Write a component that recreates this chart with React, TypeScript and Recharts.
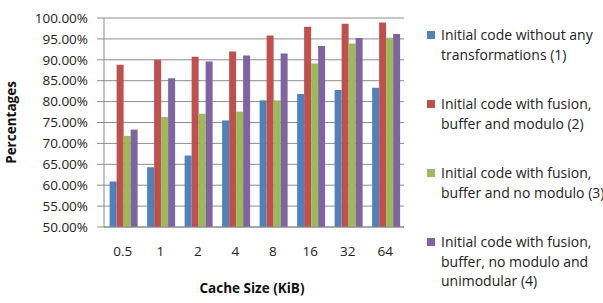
import { BarChart, Bar, XAxis, YAxis, CartesianGrid } from "recharts";

// cache sizes on the x axis (KiB)
const cacheSizes = ["0.5", "1", "2", "4", "8", "16", "32", "64"];

// hit percentages per variant
const initialCode = [60.9, 64.3, 67.1, 75.5, 80.3, 81.8, 82.8, 83.3];
const fusionBufferModulo = [88.8, 90.0, 90.7, 92.0, 95.8, 97.9, 98.6, 98.9];
const fusionBufferNoModulo = [71.8, 76.3, 77.1, 77.6, 80.3, 89.1, 93.9, 95.3];
const fusionBufferUnimodular = [73.3, 85.6, 89.6, 91.0, 91.5, 93.3, 95.2, 96.2];

const yTicks = [50, 55, 60, 65, 70, 75, 80, 85, 90, 95, 100];

const series = [
  { key: "s1", values: initialCode, color: "#4F81BD", lines: ["Initial code without any", "transformations (1)"] },
  { key: "s2", values: fusionBufferModulo, color: "#C0504D", lines: ["Initial code with fusion,", "buffer and modulo (2)"] },
  { key: "s3", values: fusionBufferNoModulo, color: "#9BBB59", lines: ["Initial code with fusion,", "buffer and no modulo (3)"] },
  { key: "s4", values: fusionBufferUnimodular, color: "#8064A2", lines: ["Initial code with fusion,", "buffer, no modulo and", "unimodular (4)"] },
];

const data = cacheSizes.map((size, i) => {
  const row: Record<string, string | number> = { size };
  series.forEach((s) => (row[s.key] = s.values[i]));
  return row;
});

const FONT = "'Open Sans', sans-serif";

export default function App() {
  return (
    <div
      style={{
        position: "absolute",
        left: 0,
        top: 0,
        width: 603,
        height: 303,
        background: "#fff",
        overflow: "hidden",
        fontFamily: FONT,
      }}
    >
      <BarChart
        width={603}
        height={303}
        data={data}
        margin={{ top: 18, right: 199, bottom: 0, left: 0 }}
        barCategoryGap="15%"
        barGap={0}
      >
        <CartesianGrid vertical={false} stroke="#8c8c8c" strokeWidth={1} />
        <XAxis
          dataKey="size"
          height={76}
          tickLine={false}
          tickSize={0}
          tickMargin={19}
          axisLine={{ stroke: "#8c8c8c" }}
          tick={{ fill: "#222", fontSize: 13.5, fontFamily: FONT }}
          label={{
            value: "Cache Size (KiB)",
            position: "insideBottom",
            offset: 10,
            dx: -2,
            fill: "#111",
            fontSize: 13.5,
            fontWeight: "bold",
            fontFamily: FONT,
          }}
        />
        <YAxis
          width={104}
          domain={[50, 100]}
          ticks={yTicks}
          interval={0}
          tickSize={7}
          tickMargin={9}
          tickLine={{ stroke: "#8c8c8c" }}
          axisLine={{ stroke: "#8c8c8c" }}
          tick={{ fill: "#222", fontSize: 13.5, fontFamily: FONT }}
          tickFormatter={(v: number) => `${v.toFixed(2)}%`}
          label={{
            value: "Percentages",
            angle: -90,
            position: "insideLeft",
            offset: 11,
            fill: "#111",
            fontSize: 13.5,
            fontWeight: "bold",
            fontFamily: FONT,
            style: { textAnchor: "middle" },
          }}
        />
        {series.map((s) => (
          <Bar key={s.key} dataKey={s.key} fill={s.color} isAnimationActive={false} />
        ))}
      </BarChart>

      {/* legend at the right */}
      <div style={{ position: "absolute", left: 427, top: 25 }}>
        {series.map((s, i) => (
          <div
            key={s.key}
            style={{
              position: "absolute",
              top: i * 69,
              left: 0,
              whiteSpace: "nowrap",
              fontSize: 14,
              lineHeight: "19.5px",
              color: "#222",
            }}
          >
            <span
              style={{
                position: "absolute",
                left: 0,
                top: 6,
                width: 8,
                height: 8,
                background: s.color,
              }}
            />
            <div style={{ marginLeft: 14 }}>
              {s.lines.map((l) => (
                <div key={l}>{l}</div>
              ))}
            </div>
          </div>
        ))}
      </div>
    </div>
  );
}
